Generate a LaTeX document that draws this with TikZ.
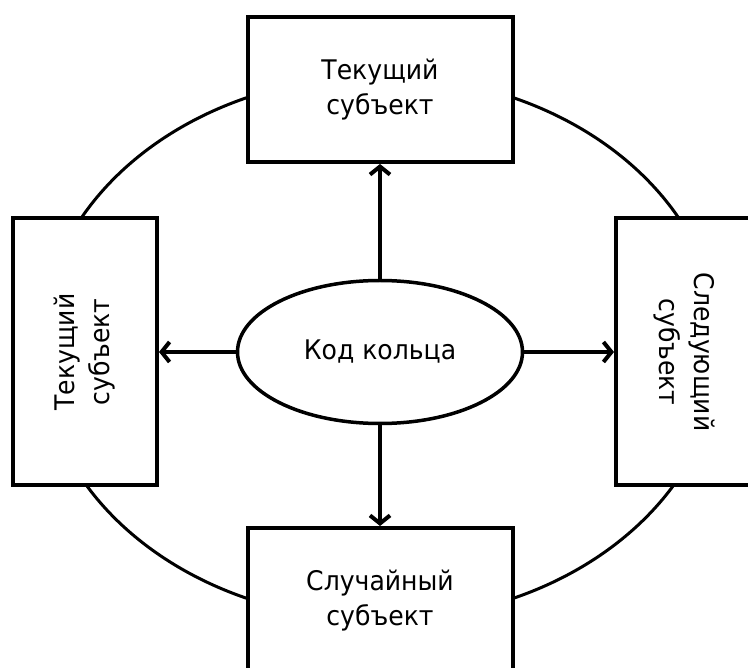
\documentclass[tikz,border=0pt]{standalone}
\usepackage{fontspec}
\setmainfont{DejaVu Sans}[FakeStretch=0.93]
\usetikzlibrary{shapes.geometric,arrows.meta}
\begin{document}
\begin{tikzpicture}[x=1pt,y=-1pt,
  ring/.style={draw, ellipse, line width=3pt, inner sep=0pt},
  subj/.style={draw, fill=white, rectangle, line width=4pt, inner sep=0pt, align=center,
    font=\fontsize{27}{35}\selectfont},
  core/.style={draw, fill=white, ellipse, line width=3.5pt, inner sep=0pt,
    font=\fontsize{27}{35}\selectfont},
  link/.style={line width=4pt, -{Straight Barb[length=8pt,width=20pt]}}]
  \useasboundingbox (0,0) rectangle (748,668);
  % outer ring behind the boxes
  \node[ring, minimum width=680pt, minimum height=544pt] (loop) at (380,348) {};
  % four subjects around the ring
  \node[subj, minimum width=265pt, minimum height=145pt] (top) at (380,89.5) {Текущий\\субъект};
  \node[subj, minimum width=265pt, minimum height=145pt] (bottom) at (380,600.5) {Случайный\\субъект};
  \node[subj, rotate=90, minimum width=267pt, minimum height=144pt] (left) at (85,352) {Текущий\\субъект};
  \node[subj, rotate=-90, minimum width=267pt, minimum height=136pt] (right) at (684,352) {Следующий\\субъект};
  % central code node
  \node[core, minimum width=285pt, minimum height=143pt] (code) at (380,352) {Код кольца};
  % links from the code to each subject
  \draw[link] (code) -- (top);
  \draw[link] (code) -- (bottom);
  \draw[link] (code) -- (left);
  \draw[link] (code) -- (right);
\end{tikzpicture}
\end{document}
